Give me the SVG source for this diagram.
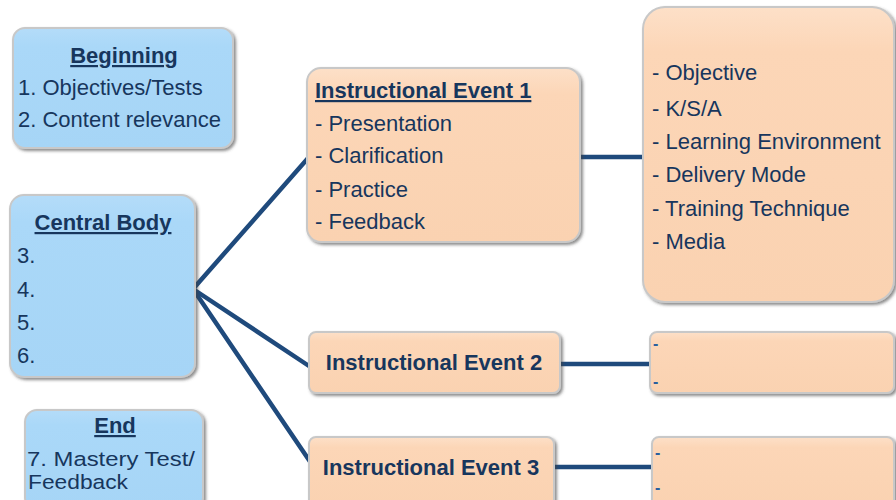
<svg xmlns="http://www.w3.org/2000/svg" width="896" height="500" viewBox="0 0 896 500">
<defs>
<filter id="sh" x="-10%" y="-10%" width="130%" height="130%">
<feDropShadow dx="2" dy="2" stdDeviation="1.5" flood-color="#404040" flood-opacity="0.6"/>
</filter>
<linearGradient id="blue" x1="0" y1="0" x2="0" y2="1">
<stop offset="0" stop-color="#b4dcf9"/>
<stop offset="0.15" stop-color="#aad8f8"/>
<stop offset="1" stop-color="#a6d5f6"/>
</linearGradient>
<linearGradient id="peach" x1="0" y1="0" x2="0" y2="1">
<stop offset="0" stop-color="#fde0c8"/>
<stop offset="0.15" stop-color="#fcd6b7"/>
<stop offset="1" stop-color="#fad2b1"/>
</linearGradient>
</defs>
<style>
.b{fill:url(#blue);stroke:#c8c8c8;stroke-width:2;filter:url(#sh)}
.p{fill:url(#peach);stroke:#c8c8c8;stroke-width:2;filter:url(#sh)}
text{font-family:"Liberation Sans",Arial,sans-serif;font-size:22px;fill:#17365d}
.t{font-weight:bold;text-decoration:underline}
.h{font-weight:bold}
.e{font-size:20.5px}
.d{font-size:16px;font-weight:bold;fill:#2a5f9e}
.c{stroke:#1f4a7c;stroke-width:4.5;fill:none;stroke-linecap:round}
</style>
<rect width="896" height="500" fill="#ffffff"/>
<g id="connectors">
<line class="c" x1="193" y1="289" x2="309" y2="157"/>
<line class="c" x1="193" y1="289" x2="309" y2="366"/>
<line class="c" x1="193" y1="289" x2="311" y2="463"/>
<line class="c" x1="580" y1="157" x2="643" y2="157"/>
<line class="c" x1="560" y1="364" x2="650" y2="364"/>
<line class="c" x1="554" y1="467" x2="652" y2="467"/>
</g>
<g id="beginning">
<rect class="b" x="13" y="28" width="220" height="120" rx="12"/>
<text class="t" x="124" y="63" text-anchor="middle">Beginning</text>
<text x="18" y="95">1. Objectives/Tests</text>
<text x="18" y="127">2. Content relevance</text>
</g>
<g id="central">
<rect class="b" x="10" y="195" width="185" height="182" rx="14"/>
<text class="t" x="103" y="230" text-anchor="middle">Central Body</text>
<text x="17" y="263">3.</text>
<text x="17" y="297">4.</text>
<text x="17" y="330">5.</text>
<text x="17" y="363">6.</text>
</g>
<g id="end">
<rect class="b" x="25" y="410" width="178" height="100" rx="12"/>
<text class="t" x="115" y="433" text-anchor="middle">End</text>
<text class="e" x="27" y="466" textLength="168" lengthAdjust="spacingAndGlyphs">7. Mastery Test/</text>
<text class="e" x="28" y="489" textLength="100" lengthAdjust="spacingAndGlyphs">Feedback</text>
</g>
<g id="event1">
<rect class="p" x="307" y="68" width="273" height="174" rx="14"/>
<text class="t" x="315" y="98">Instructional Event 1</text>
<text x="315" y="131">- Presentation</text>
<text x="315" y="163">- Clarification</text>
<text x="315" y="197">- Practice</text>
<text x="315" y="229">- Feedback</text>
</g>
<g id="details1">
<rect class="p" x="643" y="7" width="251" height="295" rx="22"/>
<text x="652" y="80">- Objective</text>
<text x="652" y="116">- K/S/A</text>
<text x="652" y="149">- Learning Environment</text>
<text x="652" y="182">- Delivery Mode</text>
<text x="652" y="216">- Training Technique</text>
<text x="652" y="249">- Media</text>
</g>
<g id="event2">
<rect class="p" x="309" y="332" width="251" height="61" rx="7"/>
<text class="h" x="434" y="370" text-anchor="middle">Instructional Event 2</text>
</g>
<g id="details2">
<rect class="p" x="650" y="332" width="244" height="61" rx="7"/>
<text class="d" x="653" y="349">-</text>
<text class="d" x="653" y="387">-</text>
</g>
<g id="event3">
<rect class="p" x="309" y="437" width="245" height="70" rx="7"/>
<text class="h" x="431" y="475" text-anchor="middle">Instructional Event 3</text>
</g>
<g id="details3">
<rect class="p" x="652" y="437" width="242" height="70" rx="7"/>
<text class="d" x="655" y="458">-</text>
<text class="d" x="655" y="493">-</text>
</g>
</svg>
